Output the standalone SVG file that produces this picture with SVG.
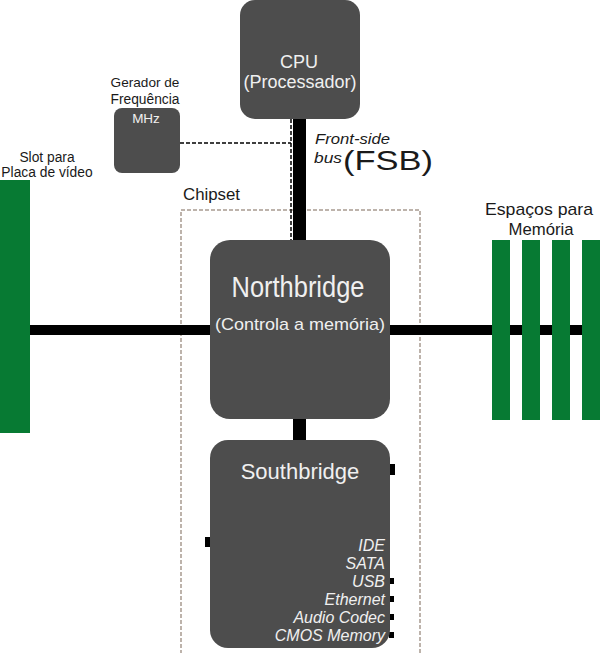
<svg xmlns="http://www.w3.org/2000/svg" width="600" height="653" viewBox="0 0 600 653">
<style>
.box{fill:#4d4d4d}
.slot{fill:#077a33}
.bus{stroke:#000;fill:none}
.lbl{font-family:"Liberation Sans",Arial,sans-serif;fill:#1a1a1a}
.wt{font-family:"Liberation Sans",Arial,sans-serif;fill:#f0f0f0}
.it{font-family:"Liberation Sans",Arial,sans-serif;font-style:italic;fill:#f0f0f0;font-size:16px;text-anchor:end}
.stub{fill:#000}
</style>
<rect width="600" height="653" fill="#fff"/>
<g id="chipset">
<rect x="181" y="210" width="239" height="460" fill="none" stroke="#a89a90" stroke-width="1.5" stroke-dasharray="4 2"/>
<text class="lbl" x="183" y="200" font-size="16" textLength="57" lengthAdjust="spacingAndGlyphs">Chipset</text>
</g>
<g id="connectors">
<line class="bus" x1="299.5" y1="110" x2="299.5" y2="250" stroke-width="13"/>
<line class="bus" x1="299.5" y1="410" x2="299.5" y2="450" stroke-width="13"/>
<line class="bus" x1="25" y1="330" x2="220" y2="330" stroke-width="10"/>
<line class="bus" x1="380" y1="330" x2="600" y2="330" stroke-width="10"/>
<line class="bus" x1="291" y1="119" x2="291" y2="242" stroke-width="1.5" stroke-dasharray="4 2"/>
<line class="bus" x1="180" y1="143" x2="291" y2="143" stroke-width="1.5" stroke-dasharray="4 2"/>
</g>
<g id="fsb-label">
<text class="lbl" x="315" y="144" font-size="15" font-style="italic" textLength="75" lengthAdjust="spacingAndGlyphs">Front-side</text>
<text class="lbl" x="314" y="163" font-size="15" font-style="italic" textLength="28" lengthAdjust="spacingAndGlyphs">bus</text>
<text class="lbl" x="343" y="170" font-size="27" textLength="90" lengthAdjust="spacingAndGlyphs">(FSB)</text>
</g>
<g id="cpu">
<rect class="box" x="240" y="0" width="120" height="119" rx="15"/>
<text class="wt" x="299" y="68" font-size="18" text-anchor="middle">CPU</text>
<text class="wt" x="300" y="88" font-size="18" text-anchor="middle" textLength="113" lengthAdjust="spacingAndGlyphs">(Processador)</text>
</g>
<g id="gerador">
<text class="lbl" x="145" y="87" font-size="13.6" text-anchor="middle">Gerador de</text>
<text class="lbl" x="145" y="104" font-size="13.8" text-anchor="middle">Frequência</text>
<rect class="box" x="114" y="108" width="66" height="65" rx="8"/>
<text class="wt" x="146" y="123" font-size="13.5" text-anchor="middle">MHz</text>
</g>
<g id="video-slot">
<text class="lbl" x="47" y="162" font-size="13.8" text-anchor="middle">Slot para</text>
<text class="lbl" x="47" y="177" font-size="13.8" text-anchor="middle">Placa de vídeo</text>
<rect class="slot" x="0" y="180" width="30" height="253"/>
</g>
<g id="memory">
<text class="lbl" x="539" y="215" font-size="17" text-anchor="middle" textLength="108" lengthAdjust="spacingAndGlyphs">Espaços para</text>
<text class="lbl" x="541" y="235" font-size="17" text-anchor="middle" textLength="65" lengthAdjust="spacingAndGlyphs">Memória</text>
<rect class="slot" x="492" y="240" width="18" height="180"/>
<rect class="slot" x="522" y="240" width="18" height="180"/>
<rect class="slot" x="552" y="240" width="18" height="180"/>
<rect class="slot" x="582" y="240" width="18" height="180"/>
</g>
<g id="northbridge">
<rect class="box" x="210" y="240" width="180" height="179" rx="20"/>
<text class="wt" x="298" y="297" font-size="30" text-anchor="middle" textLength="133" lengthAdjust="spacingAndGlyphs">Northbridge</text>
<text class="wt" x="300" y="330" font-size="17" text-anchor="middle" textLength="170" lengthAdjust="spacingAndGlyphs">(Controla a memória)</text>
</g>
<g id="southbridge">
<rect class="stub" x="389" y="464" width="6" height="11"/>
<rect class="stub" x="205" y="537" width="6" height="10"/>
<rect class="stub" x="389" y="578" width="5" height="6"/>
<rect class="stub" x="389" y="596" width="5" height="6"/>
<rect class="stub" x="389" y="614" width="5" height="6"/>
<rect class="stub" x="389" y="632" width="5" height="6"/>
<rect class="box" x="210" y="440" width="180" height="208" rx="18"/>
<text class="wt" x="300" y="479" font-size="22" text-anchor="middle">Southbridge</text>
<text class="it" x="385" y="551">IDE</text>
<text class="it" x="385" y="569">SATA</text>
<text class="it" x="385" y="587">USB</text>
<text class="it" x="385" y="605">Ethernet</text>
<text class="it" x="385" y="623">Audio Codec</text>
<text class="it" x="385" y="641">CMOS Memory</text>
</g>
</svg>
